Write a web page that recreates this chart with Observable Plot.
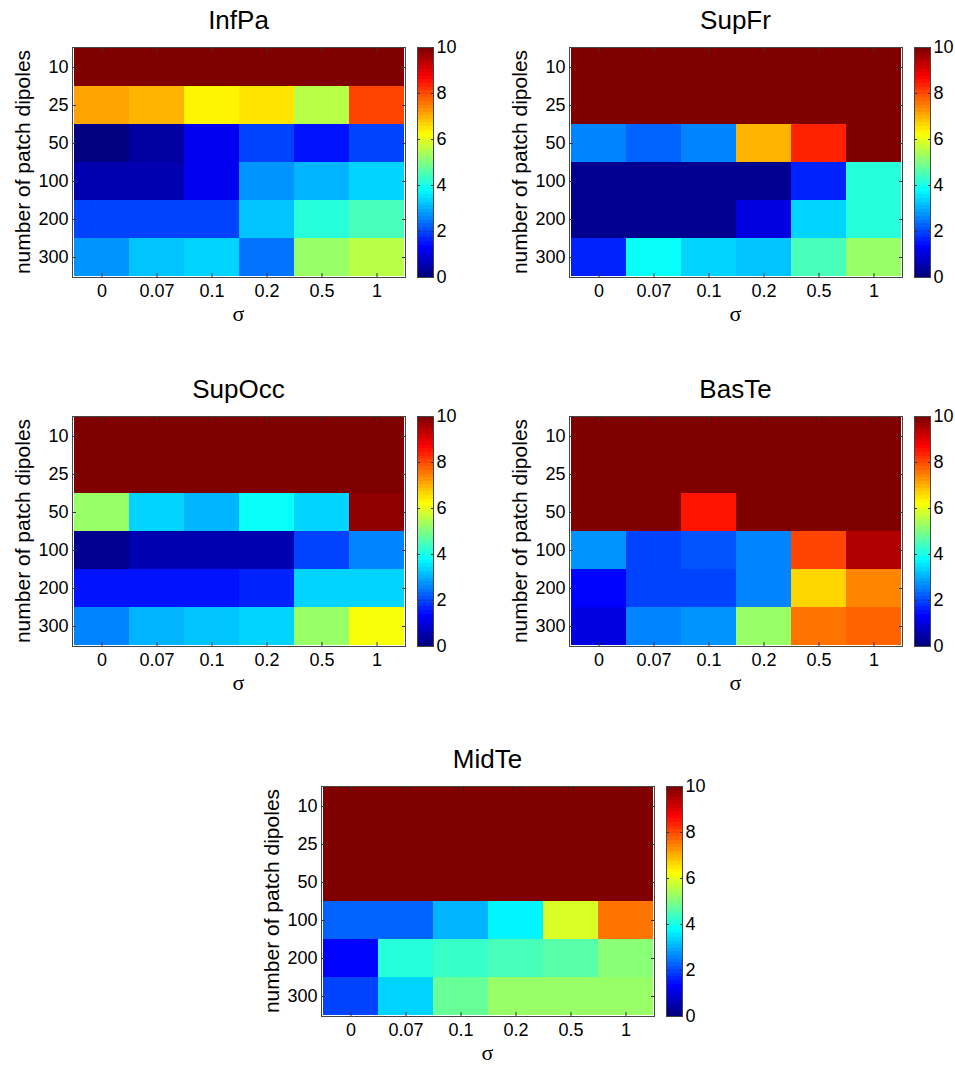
<!DOCTYPE html>
<html><head><meta charset="utf-8">
<script src="https://cdn.jsdelivr.net/npm/d3@7"></script>
<script src="https://cdn.jsdelivr.net/npm/@observablehq/plot@0.6"></script>
<style>
body{margin:0;background:#fff;}
#root{position:relative;width:955px;height:1066px;overflow:hidden;font-family:"Liberation Sans",Arial,sans-serif;color:#000;}
.abs{position:absolute;}
.title{font-size:26px;transform:translateX(-50%);white-space:nowrap;line-height:1;}
.ylab{font-size:21px;white-space:nowrap;transform:translate(-50%,-50%) rotate(-90deg);line-height:1;}
.xlab{font-family:"Liberation Serif",serif;font-size:22px;transform:translate(-50%,-50%);line-height:1;}
svg{display:block;overflow:visible;}
</style></head><body><div id="root"></div>
<script>
// ---- data ----
const sigmas = ["0", "0.07", "0.1", "0.2", "0.5", "1"];
const dipoles = ["10", "25", "50", "100", "200", "300"];
const colorbarTicks = [0, 2, 4, 6, 8, 10];
const colorDomain = [0, 10];

const infPa = [
  [10, 10, 10, 10, 10, 10],
  [7.1, 6.9, 6.25, 6.55, 5.6, 8.0],
  [0.15, 0.4, 1.1, 1.9, 1.5, 1.9],
  [0.6, 0.6, 1.1, 2.8, 3.0, 3.3],
  [2.0, 2.0, 2.0, 3.2, 4.2, 4.5],
  [2.8, 3.2, 3.4, 2.35, 5.2, 5.6]
];
const supFr = [
  [10, 10, 10, 10, 10, 10],
  [10, 10, 10, 10, 10, 10],
  [2.6, 2.2, 2.6, 6.9, 8.3, 10],
  [0.3, 0.3, 0.3, 0.3, 1.7, 4.2],
  [0.25, 0.25, 0.25, 0.95, 3.4, 4.15],
  [1.7, 3.75, 3.4, 3.2, 4.5, 5.3]
];
const supOcc = [
  [10, 10, 10, 10, 10, 10],
  [10, 10, 10, 10, 10, 10],
  [5.2, 3.4, 3.0, 3.8, 3.4, 9.7],
  [0.3, 0.6, 0.6, 0.5, 2.0, 2.5],
  [1.5, 1.5, 1.5, 1.7, 3.4, 3.4],
  [2.5, 3.0, 3.2, 3.3, 5.3, 6.1]
];
const basTe = [
  [10, 10, 10, 10, 10, 10],
  [10, 10, 10, 10, 10, 10],
  [10, 10, 8.45, 10, 10, 10],
  [2.8, 2.0, 2.1, 2.6, 8.1, 9.4],
  [1.3, 2.0, 2.0, 2.6, 6.7, 7.35],
  [1.0, 2.6, 2.8, 5.3, 7.5, 7.8]
];
const midTe = [
  [10, 10, 10, 10, 10, 10],
  [10, 10, 10, 10, 10, 10],
  [10, 10, 10, 10, 10, 10],
  [2.2, 2.2, 3.0, 3.6, 5.8, 7.65],
  [1.4, 4.2, 4.3, 4.4, 4.6, 5.0],
  [2.0, 3.4, 4.8, 5.2, 5.2, 5.2]
];
const panelTitles = ["InfPa", "SupFr", "SupOcc", "BasTe", "MidTe"];
const panelValues = [infPa, supFr, supOcc, basTe, midTe];

// ---- jet colormap (64 levels like MATLAB) ----
function jetColor(t) {
  const c = x => Math.max(0, Math.min(1, x));
  const r = c(1.5 - Math.abs(4 * t - 3)), g = c(1.5 - Math.abs(4 * t - 2)), b = c(1.5 - Math.abs(4 * t - 1));
  return `rgb(${Math.round(r * 255)},${Math.round(g * 255)},${Math.round(b * 255)})`;
}
const jet = t => jetColor(Math.max(0, Math.min(63, Math.floor(t * 64))) / 63);

// ---- layout ----
const W = 333, H = 230, ML = 60, MR = 4, MT = 12, MB = 40;
const CB_GAP = 345, CB_W = 16, CB_ML = 1, CB_MR = 30;
const positions = [[72, 47], [569, 47], [72, 416], [569, 416], [321, 786]];
const root = document.getElementById("root");
const style = {fontFamily: "'Liberation Sans', Arial, sans-serif", fontSize: "18px", background: "transparent", color: "#000", overflow: "visible"};
const colorOpts = {type: "linear", domain: colorDomain, interpolate: jet, clamp: true};
const blank = () => "";

function place(el, left, top) {
  el.style.position = "absolute";
  el.style.left = left + "px";
  el.style.top = top + "px";
  root.appendChild(el);
}
function label(cls, text, left, top) {
  const d = document.createElement("div");
  d.className = "abs " + cls;
  d.textContent = text;
  d.style.left = left + "px";
  d.style.top = top + "px";
  root.appendChild(d);
}

panelValues.forEach((values, k) => {
  const [px, py] = positions[k];
  const data = dipoles.flatMap((d, i) => sigmas.map((s, j) => ({sigma: s, dipoles: d, value: values[i][j]})));
  const chart = Plot.plot({
    width: W + ML + MR, height: H + MT + MB,
    marginLeft: ML, marginRight: MR, marginTop: MT, marginBottom: MB,
    style,
    x: {type: "band", domain: sigmas, padding: 0, label: null},
    y: {type: "band", domain: dipoles, padding: 0, label: null},
    color: colorOpts,
    marks: [
      Plot.cell(data, {x: "sigma", y: "dipoles", fill: "value", inset: 0, shapeRendering: "crispEdges"}),
      Plot.axisX({anchor: "bottom", tickSize: 0, tickPadding: 7}),
      Plot.axisX({anchor: "bottom", tickSize: -4, tickFormat: blank, stroke: "#333"}),
      Plot.axisX({anchor: "top", tickSize: -4, tickFormat: blank, stroke: "#333"}),
      Plot.axisY({anchor: "left", tickSize: 0, tickPadding: 4}),
      Plot.axisY({anchor: "left", tickSize: -4, tickFormat: blank, stroke: "#333"}),
      Plot.axisY({anchor: "right", tickSize: -4, tickFormat: blank, stroke: "#333"}),
      Plot.frame({stroke: "#444"})
    ]
  });
  place(chart, px - ML, py - MT);

  const bands = d3.range(64).map(i => ({
    lo: colorDomain[0] + i * (colorDomain[1] - colorDomain[0]) / 64,
    hi: colorDomain[0] + (i + 1) * (colorDomain[1] - colorDomain[0]) / 64,
    mid: colorDomain[0] + (i + 0.5) * (colorDomain[1] - colorDomain[0]) / 64
  }));
  const bar = Plot.plot({
    width: CB_W + CB_ML + CB_MR, height: H + MT + MB,
    marginLeft: CB_ML, marginRight: CB_MR, marginTop: MT, marginBottom: MB,
    style,
    y: {type: "linear", domain: colorDomain, label: null},
    color: colorOpts,
    marks: [
      Plot.rect(bands, {y1: "lo", y2: "hi", fill: "mid", shapeRendering: "crispEdges"}),
      Plot.axisY({anchor: "right", ticks: colorbarTicks, tickSize: 0, tickPadding: 3}),
      Plot.axisY({anchor: "right", ticks: colorbarTicks, tickSize: -3, tickFormat: blank, stroke: "#333"}),
      Plot.axisY({anchor: "left", ticks: colorbarTicks, tickSize: -3, tickFormat: blank, stroke: "#333"}),
      Plot.frame({stroke: "#444"})
    ]
  });
  place(bar, px + CB_GAP - CB_ML, py - MT);

  label("title", panelTitles[k], px + W / 2, py - 40);
  label("ylab", "number of patch dipoles", px - 50, py + H / 2);
  label("xlab", "σ", px + W / 2, py + H + 37);
});
</script>
</body></html>
